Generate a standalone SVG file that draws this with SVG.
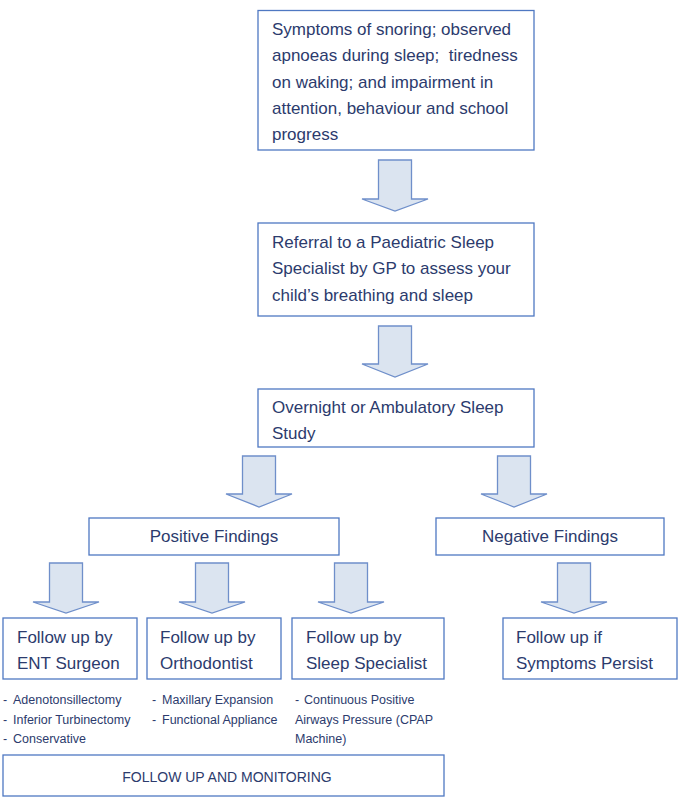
<svg xmlns="http://www.w3.org/2000/svg" width="680" height="798" viewBox="0 0 680 798">
<style>
.box{fill:#ffffff;stroke:#4f78c2;stroke-width:1.3}
.arr{fill:#dbe4f0;stroke:#6f8fca;stroke-width:1.3;stroke-linejoin:miter}
.t{font-family:"Liberation Sans",Arial,sans-serif;font-size:17px;fill:#2c3b6d}
.s{font-family:"Liberation Sans",Arial,sans-serif;font-size:12.5px;fill:#2c3b6d}
.c{font-family:"Liberation Sans",Arial,sans-serif;font-size:14px;fill:#2c3b6d;text-anchor:middle}
.m{text-anchor:middle}
</style>
<rect width="680" height="798" fill="#ffffff"/>
<g id="connectors">
<polygon class="arr" points="378.5,160 411.5,160 411.5,199 428,199 395,211 362,199 378.5,199 378.5,160"/>
<polygon class="arr" points="378.5,326 411.5,326 411.5,364 428,364 395,377 362,364 378.5,364 378.5,326"/>
<polygon class="arr" points="242.5,456 275.5,456 275.5,494 292,494 259,507 226,494 242.5,494 242.5,456"/>
<polygon class="arr" points="497.5,456 530.5,456 530.5,494 547,494 514,507 481,494 497.5,494 497.5,456"/>
<polygon class="arr" points="49.5,563 82.5,563 82.5,602 99,602 66,613 33,602 49.5,602 49.5,563"/>
<polygon class="arr" points="195.5,563 228.5,563 228.5,602 245,602 212,613 179,602 195.5,602 195.5,563"/>
<polygon class="arr" points="334.5,563 367.5,563 367.5,602 384,602 351,613 318,602 334.5,602 334.5,563"/>
<polygon class="arr" points="557.5,563 590.5,563 590.5,602 607,602 574,613 541,602 557.5,602 557.5,563"/>
</g>
<g id="symptoms">
<rect class="box" x="258" y="10.5" width="276" height="139.5"/>
<text class="t" x="272" y="35">Symptoms of snoring; observed</text>
<text class="t" x="272" y="61" xml:space="preserve">apnoeas during sleep;  tiredness</text>
<text class="t" x="272" y="88">on waking; and impairment in</text>
<text class="t" x="272" y="114">attention, behaviour and school</text>
<text class="t" x="272" y="140">progress</text>
</g>
<g id="referral">
<rect class="box" x="258" y="223" width="276" height="93"/>
<text class="t" x="272" y="248">Referral to a Paediatric Sleep</text>
<text class="t" x="272" y="274">Specialist by GP to assess your</text>
<text class="t" x="272" y="301">child’s breathing and sleep</text>
</g>
<g id="study">
<rect class="box" x="258" y="389" width="276" height="58"/>
<text class="t" x="272" y="413">Overnight or Ambulatory Sleep</text>
<text class="t" x="272" y="439">Study</text>
</g>
<g id="positive">
<rect class="box" x="89" y="518" width="250" height="37"/>
<text class="t m" x="214" y="542">Positive Findings</text>
</g>
<g id="negative">
<rect class="box" x="436" y="518" width="228" height="37"/>
<text class="t m" x="550" y="542">Negative Findings</text>
</g>
<g id="ent">
<rect class="box" x="3" y="618" width="134" height="61"/>
<text class="t" x="17" y="643">Follow up by</text>
<text class="t" x="17" y="669">ENT Surgeon</text>
</g>
<g id="ortho">
<rect class="box" x="147" y="618" width="134" height="61"/>
<text class="t" x="160" y="643">Follow up by</text>
<text class="t" x="160" y="669">Orthodontist</text>
</g>
<g id="sleep">
<rect class="box" x="292" y="618" width="152" height="61"/>
<text class="t" x="306" y="643">Follow up by</text>
<text class="t" x="306" y="669">Sleep Specialist</text>
</g>
<g id="persist">
<rect class="box" x="503" y="618" width="174" height="61"/>
<text class="t" x="516" y="643">Follow up if</text>
<text class="t" x="516" y="669">Symptoms Persist</text>
</g>
<g id="ent-list">
<text class="s" x="3" y="704">-</text><text class="s" x="13" y="704">Adenotonsillectomy</text>
<text class="s" x="3" y="724">-</text><text class="s" x="13" y="724">Inferior Turbinectomy</text>
<text class="s" x="3" y="743">-</text><text class="s" x="13" y="743">Conservative</text>
</g>
<g id="ortho-list">
<text class="s" x="152" y="704">-</text><text class="s" x="162" y="704">Maxillary Expansion</text>
<text class="s" x="152" y="724">-</text><text class="s" x="162" y="724">Functional Appliance</text>
</g>
<g id="sleep-list">
<text class="s" x="295" y="704">-</text><text class="s" x="304" y="704">Continuous Positive</text>
<text class="s" x="295" y="724">Airways Pressure (CPAP</text>
<text class="s" x="295" y="743">Machine)</text>
</g>
<g id="monitoring">
<rect class="box" x="3" y="755" width="441" height="41"/>
<text class="c" x="227" y="782">FOLLOW UP AND MONITORING</text>
</g>
</svg>
